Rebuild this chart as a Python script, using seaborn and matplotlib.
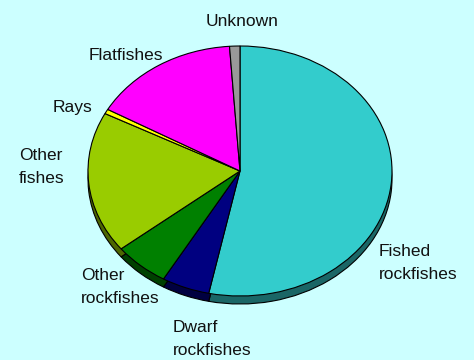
import numpy as np
import matplotlib
matplotlib.use("Agg")
import matplotlib.pyplot as plt
import seaborn as sns

# data (percent of catch, clockwise from 12 o'clock)
categories = ["Fished\nrockfishes", "Dwarf\nrockfishes", "Other\nrockfishes",
              "Other\nfishes", "Rays", "Flatfishes", "Unknown"]
shares = [53.3, 5.1, 5.9, 18.3, 0.6, 15.7, 1.1]
colors = ["#33CCCC", "#000080", "#008000", "#99CC00", "#FFFF00", "#FF00FF", "#999999"]

# label centres in pixels (x, y from top)
label_pos = [(379, 263), (173, 339), (81, 287), (19, 167), (73, 107), (126, 55), (242, 21)]
label_ha = ["left", "left", "left", "left", "center", "center", "center"]

sns.set_style("white")
plt.rcParams["font.family"] = ["Liberation Sans", "DejaVu Sans"]

W, H = 474, 360
bg = "#CCFFFF"
fig = plt.figure(figsize=(W / 100, H / 100), dpi=100, facecolor=bg)
ax = fig.add_axes([0, 0, 1, 1])
ax.set_facecolor(bg)

# ellipse geometry in pixels
cx, cy, rx, ry, depth = 240, 171, 152, 125, 8

# side of the "3d" pie: darker copy shifted down
side_colors = [tuple(c * 0.5 for c in matplotlib.colors.to_rgb(col)) for col in colors]
ax.pie(shares, colors=side_colors, startangle=90, counterclock=False,
       center=(0, -depth / ry), radius=1,
       wedgeprops=dict(edgecolor="black", linewidth=0.8))
ax.pie(shares, colors=colors, startangle=90, counterclock=False,
       center=(0, 0), radius=1,
       wedgeprops=dict(edgecolor="black", linewidth=0.8))

ax.set_aspect("auto")
ax.set_xlim(-cx / rx, (W - cx) / rx)
ax.set_ylim(-(H - cy) / ry, cy / ry)
ax.axis("off")

for lab, (px, py), ha in zip(categories, label_pos, label_ha):
    fig.text(px / W, 1 - py / H, lab, ha=ha, va="center", fontsize=12.5,
             color="#111111", linespacing=1.7)

fig.savefig("out.png", dpi=100, facecolor=bg)
